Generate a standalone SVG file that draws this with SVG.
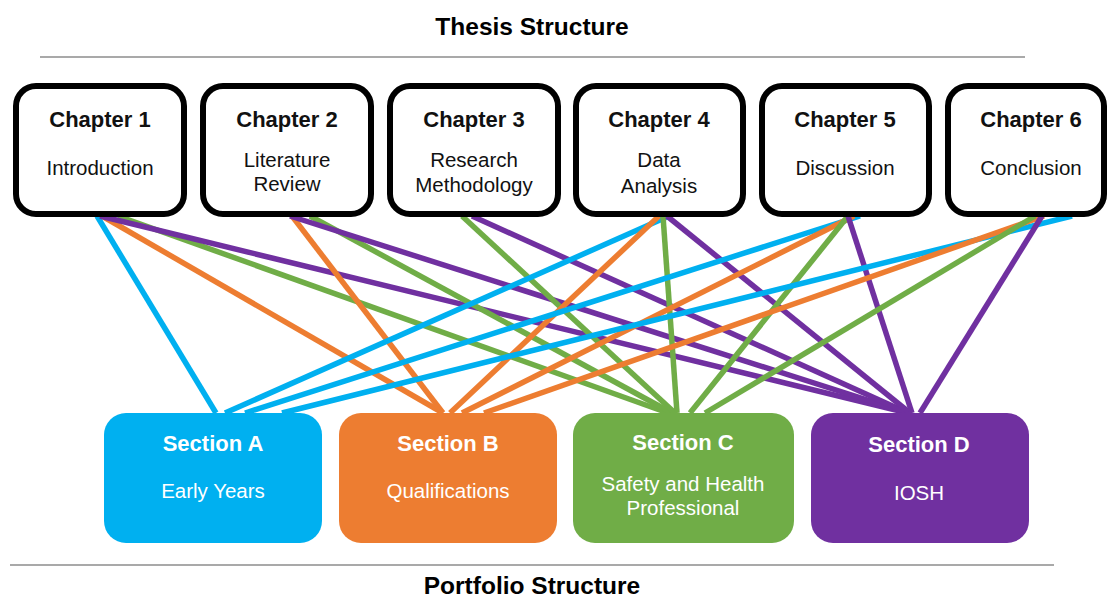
<svg xmlns="http://www.w3.org/2000/svg" width="1110" height="597" viewBox="0 0 1110 597">
<style>
.bg{fill:#fff}
.rule{stroke:#8c8c8c;stroke-width:1.6}
.head{font-family:"Liberation Sans",Arial,sans-serif;font-weight:bold;font-size:24.5px;fill:#000;text-anchor:middle}
.ch rect{fill:#fff;stroke:#000;stroke-width:6}
.ct{font-family:"Liberation Sans",Arial,sans-serif;font-weight:bold;font-size:22px;fill:#111;text-anchor:middle}
.cs{font-family:"Liberation Sans",Arial,sans-serif;font-size:20.5px;fill:#111;text-anchor:middle}
.st{font-family:"Liberation Sans",Arial,sans-serif;font-weight:bold;font-size:22px;fill:#fff;text-anchor:middle}
.ss{font-family:"Liberation Sans",Arial,sans-serif;font-size:20.5px;fill:#fff;text-anchor:middle}
#connectors line{stroke-width:5.5;stroke-linecap:butt}
.b{stroke:#00B0F0}
.o{stroke:#ED7D31}
.g{stroke:#70AD47}
.p{stroke:#7030A0}
</style>
<rect class="bg" x="0" y="0" width="1110" height="597"/>
<text class="head" x="532" y="35">Thesis Structure</text>
<line class="rule" x1="40" y1="57" x2="1025" y2="57"/>

<g id="connectors">
  <!-- Chapter 1 -->
  <line class="b" x1="97" y1="216" x2="216" y2="413"/>
  <line class="o" x1="102" y1="216" x2="443" y2="413"/>
  <line class="g" x1="118" y1="216" x2="668" y2="413"/>
  <line class="p" x1="100" y1="216" x2="908" y2="413"/>
  <!-- Chapter 2 -->
  <line class="o" x1="292" y1="216" x2="443" y2="413"/>
  <line class="g" x1="310" y1="216" x2="672" y2="413"/>
  <line class="p" x1="290" y1="216" x2="908" y2="413"/>
  <!-- Chapter 3 -->
  <line class="g" x1="462" y1="216" x2="675" y2="413"/>
  <line class="p" x1="472" y1="216" x2="908" y2="413"/>
  <!-- Chapter 4 -->
  <line class="b" x1="669" y1="216" x2="225" y2="413"/>
  <line class="o" x1="659" y1="216" x2="450" y2="413"/>
  <line class="g" x1="663" y1="216" x2="677" y2="413"/>
  <line class="p" x1="667" y1="216" x2="910" y2="413"/>
  <!-- Chapter 5 -->
  <line class="b" x1="860" y1="216" x2="245" y2="413"/>
  <line class="o" x1="854" y1="216" x2="462" y2="413"/>
  <line class="g" x1="848" y1="216" x2="690" y2="413"/>
  <line class="p" x1="848" y1="216" x2="912" y2="413"/>
  <!-- Chapter 6 -->
  <line class="b" x1="1072" y1="216" x2="282" y2="413"/>
  <line class="o" x1="1044" y1="216" x2="484" y2="413"/>
  <line class="g" x1="1035" y1="216" x2="705" y2="413"/>
  <line class="p" x1="1042" y1="216" x2="920" y2="413"/>
</g>

<g id="chapter1" class="ch">
  <rect x="16" y="86" width="168" height="128" rx="20"/>
  <text class="ct" x="100" y="127">Chapter 1</text>
  <text class="cs" x="100" y="175">Introduction</text>
</g>
<g id="chapter2" class="ch">
  <rect x="203" y="86" width="168" height="128" rx="20"/>
  <text class="ct" x="287" y="127">Chapter 2</text>
  <text class="cs" x="287" y="167">Literature</text>
  <text class="cs" x="287" y="191">Review</text>
</g>
<g id="chapter3" class="ch">
  <rect x="390" y="86" width="168" height="128" rx="20"/>
  <text class="ct" x="474" y="127">Chapter 3</text>
  <text class="cs" x="474" y="167">Research</text>
  <text class="cs" x="474" y="192">Methodology</text>
</g>
<g id="chapter4" class="ch">
  <rect x="576" y="86" width="167" height="128" rx="20"/>
  <text class="ct" x="659" y="127">Chapter 4</text>
  <text class="cs" x="659" y="167">Data</text>
  <text class="cs" x="659" y="193">Analysis</text>
</g>
<g id="chapter5" class="ch">
  <rect x="762" y="86" width="167" height="128" rx="20"/>
  <text class="ct" x="845" y="127">Chapter 5</text>
  <text class="cs" x="845" y="175">Discussion</text>
</g>
<g id="chapter6" class="ch">
  <rect x="948" y="86" width="156" height="128" rx="20"/>
  <text class="ct" x="1031" y="127">Chapter 6</text>
  <text class="cs" x="1031" y="175">Conclusion</text>
</g>

<g id="sectionA">
  <rect x="104" y="413" width="218" height="130" rx="22" fill="#00B0F0"/>
  <text class="st" x="213" y="451">Section A</text>
  <text class="ss" x="213" y="498">Early Years</text>
</g>
<g id="sectionB">
  <rect x="339" y="413" width="218" height="130" rx="22" fill="#ED7D31"/>
  <text class="st" x="448" y="451">Section B</text>
  <text class="ss" x="448" y="498">Qualifications</text>
</g>
<g id="sectionC">
  <rect x="573" y="413" width="221" height="130" rx="22" fill="#70AD47"/>
  <text class="st" x="683" y="450">Section C</text>
  <text class="ss" x="683" y="491">Safety and Health</text>
  <text class="ss" x="683" y="515">Professional</text>
</g>
<g id="sectionD">
  <rect x="811" y="413" width="218" height="130" rx="22" fill="#7030A0"/>
  <text class="st" x="919" y="452">Section D</text>
  <text class="ss" x="919" y="500">IOSH</text>
</g>

<line class="rule" x1="10" y1="565" x2="1054" y2="565"/>
<text class="head" x="532" y="594">Portfolio Structure</text>
</svg>
